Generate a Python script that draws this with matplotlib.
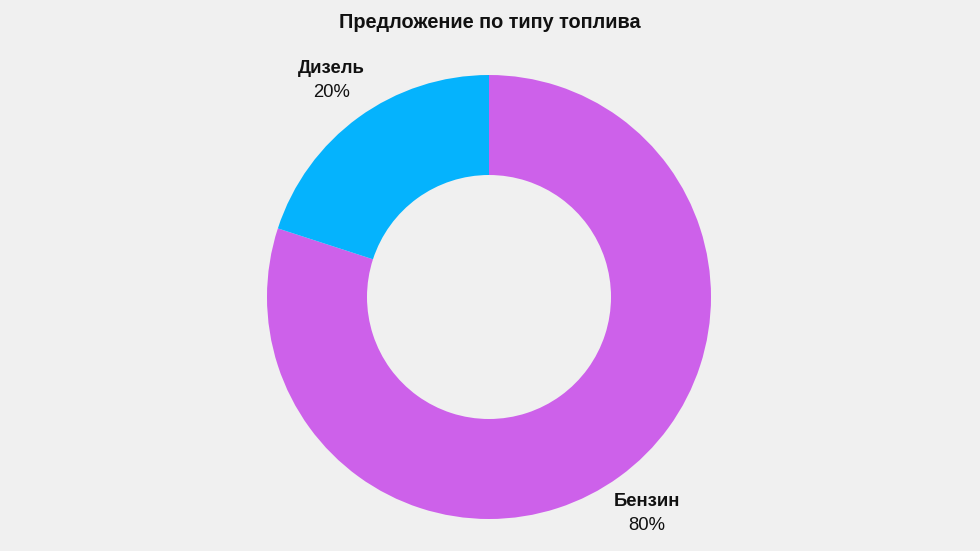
import numpy as np
import matplotlib.pyplot as plt

plt.rcParams['font.family'] = ['Liberation Sans', 'DejaVu Sans']

# dati
categorie = ["Бензин", "Дизель"]
quote = [80, 20]
colori = ["#cd61ea", "#05b3fd"]
titolo = "Предложение по типу топлива"

W, H = 980, 551
fig = plt.figure(figsize=(W / 100, H / 100), dpi=100, facecolor="#f0f0f0")
ax = fig.add_axes([0, 0, 1, 1])
ax.set_facecolor("#f0f0f0")

cx, cy, r = 489, H - 297, 222
wedges, _ = ax.pie(quote, colors=colori, startangle=90, counterclock=False,
                   center=(cx, cy), radius=r,
                   wedgeprops=dict(width=r - 122, linewidth=0))
ax.set_xlim(0, W)
ax.set_ylim(0, H)
ax.set_aspect("equal")
ax.axis("off")

# etichette a meta' di ogni spicchio
for w, nome, q in zip(wedges, categorie, quote):
    ang = np.deg2rad((w.theta1 + w.theta2) / 2)
    x = cx + 268 * np.cos(ang)
    y = cy + 268 * np.sin(ang)
    ax.text(x, y + 12, nome, ha="center", va="center", fontsize=13.3, fontweight="bold", color="#111111")
    ax.text(x, y - 12, f"{q}%", ha="center", va="center", fontsize=13.3, color="#111111")

fig.text(0.5, 1 - 22 / H, titolo, ha="center", va="center", fontsize=14.3, fontweight="bold", color="#111111")

fig.savefig("out.png", dpi=100, facecolor=fig.get_facecolor())
